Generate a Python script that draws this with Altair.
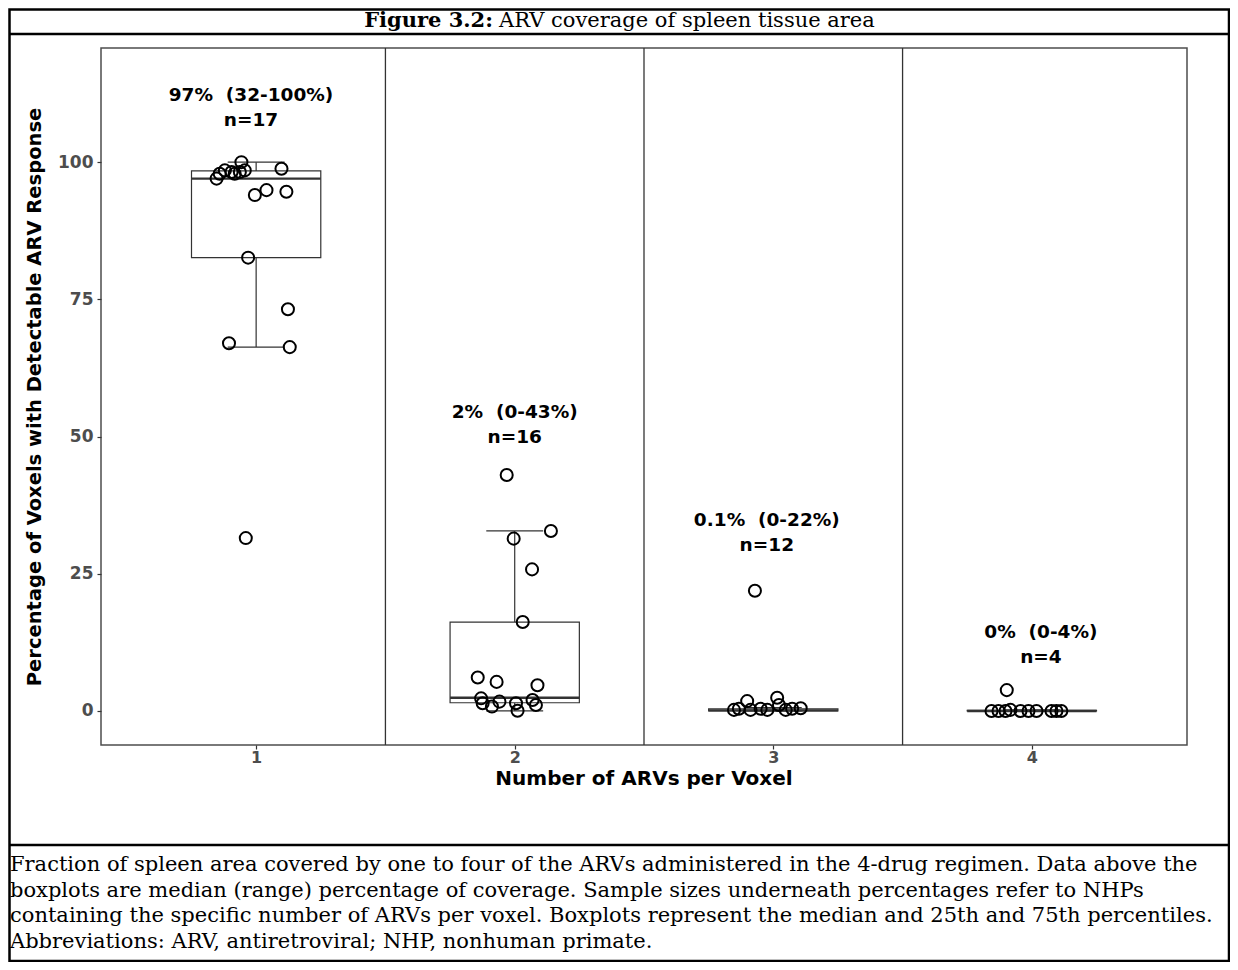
import altair as alt
import pandas as pd

SANS = "DejaVu Sans"
SERIF = "DejaVu Serif"

categories = [1, 2, 3, 4]

# jittered points (x = category + jitter, y = percentage)
g1_x = [0.847, 0.859, 0.879, 0.905, 0.917, 0.937, 0.943, 0.956, 1.098, 0.995, 1.040, 1.117, 0.969, 1.123, 0.895, 1.130, 0.960]
g1_y = [97.0, 97.9, 98.5, 98.2, 97.9, 98.2, 100.0, 98.5, 98.8, 94.0, 94.9, 94.6, 82.6, 73.2, 67.0, 66.3, 31.5]
g2_x = [1.969, 2.140, 1.996, 2.067, 2.031, 1.857, 1.930, 2.088, 1.870, 1.876, 1.912, 1.941, 2.005, 2.011, 2.069, 2.082]
g2_y = [43.0, 32.8, 31.4, 25.8, 16.2, 6.1, 5.3, 4.7, 2.3, 1.4, 0.8, 1.7, 1.4, 0.05, 2.0, 1.1]
g3_x = [2.929, 2.848, 2.867, 2.899, 2.912, 2.951, 2.977, 3.015, 3.022, 3.048, 3.073, 3.106]
g3_y = [21.9, 0.2, 0.4, 1.8, 0.2, 0.4, 0.2, 2.4, 1.1, 0.2, 0.4, 0.5]
g4_x = [3.903, 3.844, 3.871, 3.898, 3.917, 3.956, 3.987, 4.018, 4.076, 4.095, 4.114]
g4_y = [3.8, 0.0, 0.0, 0.0, 0.2, 0.0, 0.0, 0.0, 0.0, 0.0, 0.0]

# boxplot statistics
q1 = [82.6, 1.5, 0.0, 0.0]
med = [97.0, 2.4, 0.1, 0.0]
q3 = [98.4, 16.2, 0.4, 0.1]
wlo = [66.3, 0.0, 0.0, 0.0]
whi = [100.0, 32.8, 0.6, 0.2]

separators = [1.5, 2.5, 3.5]

label_top = ["97%\u00a0 (32-100%)", "2%\u00a0 (0-43%)", "0.1%\u00a0 (0-22%)", "0%\u00a0 (0-4%)"]
label_n = ["n=17", "n=16", "n=12", "n=4"]
label_x = [0.98, 2.0, 2.975, 4.035]
label_y1 = [112.2, 54.5, 34.8, 14.4]
label_y2 = [107.7, 49.9, 30.2, 9.8]

x_title = "Number of ARVs per Voxel"
y_title = "Percentage of Voxels with Detectable ARV Response"
title_bold = "Figure 3.2:"
title_rest = "ARV coverage of spleen tissue area"
caption_lines = [
    "Fraction of spleen area covered by one to four of the ARVs administered in the 4-drug regimen. Data above the",
    "boxplots are median (range) percentage of coverage. Sample sizes underneath percentages refer to NHPs",
    "containing the specific number of ARVs per voxel. Boxplots represent the median and 25th and 75th percentiles.",
    "Abbreviations: ARV, antiretroviral; NHP, nonhuman primate.",
]

pts = pd.DataFrame({
    "x": g1_x + g2_x + g3_x + g4_x,
    "y": g1_y + g2_y + g3_y + g4_y,
})
box_df = pd.DataFrame({"cat": categories, "q1": q1, "med": med, "q3": q3, "lo": wlo, "hi": whi})
lab_df = pd.DataFrame({"x": label_x, "y1": label_y1, "y2": label_y2, "t1": label_top, "t2": label_n})
sep_df = pd.DataFrame({"sep": separators})
one = pd.DataFrame({"k": [0]})
cap_df = pd.DataFrame({"cap": ["\n".join(caption_lines)]})

W, H = 1086, 697
xs = alt.Scale(domain=[0.4, 4.6], nice=False, zero=False)
ys = alt.Scale(domain=[-6.2, 120.8], nice=False, zero=False)
xaxis = alt.Axis(title="", values=categories, format="d", grid=False, domain=False,
                 tickSize=4, tickColor="#333333", tickWidth=1.2, labelFont=SANS, labelFontSize=16,
                 labelFontWeight="bold", labelColor="#4d4d4d", labelPadding=0)
yaxis = alt.Axis(title="", values=[0, 25, 50, 75, 100],
                 format="d", grid=False, domain=False, tickSize=4, tickColor="#333333", tickWidth=1.2,
                 labelFont=SANS, labelFontSize=17, labelFontWeight="bold", labelColor="#4d4d4d",
                 labelPadding=4)

def X(f):
    return alt.X(f, scale=xs, axis=xaxis)

def Y(f):
    return alt.Y(f, scale=ys, axis=yaxis)

box_base = alt.Chart(box_df).transform_calculate(
    xlo="datum.cat - 0.25", xhi="datum.cat + 0.25", clo="datum.cat - 0.11", chi="datum.cat + 0.11"
)
BOXC = "#333333"

sep_layer = alt.Chart(sep_df).mark_rule(color="#333333", strokeWidth=1.3).encode(x=X("sep:Q"))
wh_up = box_base.mark_rule(color=BOXC, strokeWidth=1.2).encode(x=X("cat:Q"), y=Y("q3:Q"), y2="hi:Q")
wh_lo = box_base.mark_rule(color=BOXC, strokeWidth=1.2).encode(x=X("cat:Q"), y=Y("lo:Q"), y2="q1:Q")
cap_up = box_base.mark_rule(color=BOXC, strokeWidth=1.2).encode(x=X("clo:Q"), x2="chi:Q", y=Y("hi:Q"))
cap_lo = box_base.mark_rule(color=BOXC, strokeWidth=1.2).encode(x=X("clo:Q"), x2="chi:Q", y=Y("lo:Q"))
box = box_base.mark_rect(fill="white", stroke=BOXC, strokeWidth=1.2).encode(
    x=X("xlo:Q"), x2="xhi:Q", y=Y("q1:Q"), y2="q3:Q")
median = box_base.mark_rule(color=BOXC, strokeWidth=2.4).encode(x=X("xlo:Q"), x2="xhi:Q", y=Y("med:Q"))
points = alt.Chart(pts).mark_point(shape="circle", filled=False, size=145, strokeWidth=2, color="black",
                                   opacity=1).encode(x=X("x:Q"), y=Y("y:Q"))
lab1 = alt.Chart(lab_df).mark_text(font=SANS, fontSize=18.5, fontWeight="bold", color="black",
                                   baseline="middle", align="center").encode(x=X("x:Q"), y=Y("y1:Q"), text="t1:N")
lab2 = alt.Chart(lab_df).mark_text(font=SANS, fontSize=18.5, fontWeight="bold", color="black",
                                   baseline="middle", align="center").encode(x=X("x:Q"), y=Y("y2:Q"), text="t2:N")
xt = alt.Chart(one).mark_text(font=SANS, fontSize=20, fontWeight="bold", color="black",
                              baseline="middle", align="center").encode(
    x=alt.value(543), y=alt.value(731), text=alt.value(x_title))
yt = alt.Chart(one).mark_text(font=SANS, fontSize=19.5, fontWeight="bold", color="black",
                              baseline="middle", align="center", angle=270).encode(
    x=alt.value(-66), y=alt.value(349), text=alt.value(y_title))

# figure frame, title, caption
L, R, T, B = -91.5, 1128, -38.5, 913
frame = alt.Chart(one).mark_rect(fillOpacity=0, stroke="black", strokeWidth=2.5).encode(
    x=alt.value(L), x2=alt.value(R), y=alt.value(T), y2=alt.value(B))
sep_title = alt.Chart(one).mark_rule(color="black", strokeWidth=2.5).encode(
    x=alt.value(L), x2=alt.value(R), y=alt.value(-14))
sep_cap = alt.Chart(one).mark_rule(color="black", strokeWidth=2.5).encode(
    x=alt.value(L), x2=alt.value(R), y=alt.value(797))
t_bold = alt.Chart(one).mark_text(font=SERIF, fontSize=21, fontWeight="bold", align="right",
                                  baseline="middle", color="black").encode(
    x=alt.value(392), y=alt.value(-27), text=alt.value(title_bold))
t_rest = alt.Chart(one).mark_text(font=SERIF, fontSize=21, align="left", baseline="middle",
                                  color="black").encode(
    x=alt.value(398), y=alt.value(-27), text=alt.value(title_rest))
caption = alt.Chart(cap_df).mark_text(font=SERIF, fontSize=21, align="left", baseline="top",
                                      lineBreak="\n", lineHeight=25.7, color="black").encode(
    x=alt.value(-91), y=alt.value(806), text="cap:N")

chart = alt.layer(
    sep_layer, wh_up, wh_lo, cap_up, cap_lo, box, median, points, lab1, lab2, xt, yt,
    frame, sep_title, sep_cap, t_bold, t_rest, caption
).properties(
    width=W, height=H,
    autosize=alt.AutoSizeParams(type="none"),
    padding={"left": 93, "top": 40, "right": 43, "bottom": 217},
    background="white",
).configure_view(stroke="#4d4d4d", strokeWidth=1.5)

chart.save("out.html", embed_options={"renderer": "svg", "actions": False})
